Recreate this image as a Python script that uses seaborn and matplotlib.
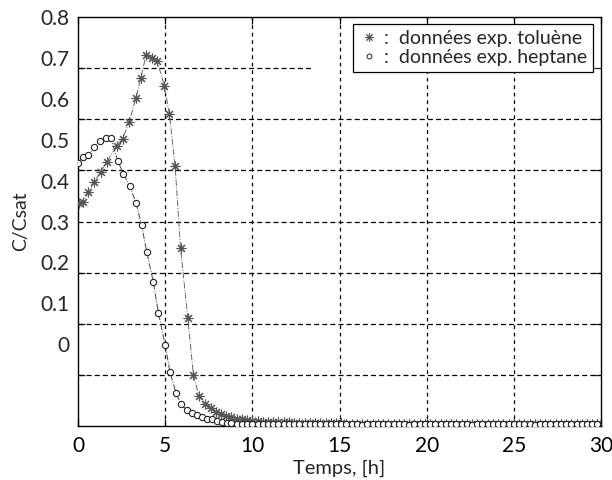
import numpy as np
import pandas as pd
import matplotlib
matplotlib.use("Agg")
import matplotlib.pyplot as plt
import seaborn as sns
from matplotlib.lines import Line2D

# ==========================================
# DATA
# ==========================================

# toluene, start of the run
t_tol = [0.07, 0.30, 0.59, 0.92, 1.30, 1.65, 2.22, 2.56, 2.94, 3.33,
         3.60, 3.90, 4.23, 4.55, 4.95, 5.24, 5.57, 5.88, 6.30, 6.62,
         6.94, 7.30, 7.60, 7.90, 8.20, 8.50]
c_tol = [0.345, 0.348, 0.372, 0.397, 0.421, 0.446, 0.485, 0.503, 0.544, 0.603,
         0.650, 0.707, 0.700, 0.692, 0.631, 0.564, 0.435, 0.235, 0.063, -0.076,
         -0.127, -0.145, -0.157, -0.165, -0.171, -0.176]

# heptane, start of the run
t_hep = [0.00, 0.27, 0.59, 0.92, 1.26, 1.60, 1.87, 2.28, 2.60, 2.98,
         3.33, 3.65, 3.94, 4.32, 4.61, 5.00, 5.28, 5.62, 5.90, 6.24,
         6.52, 6.81, 7.10, 7.38, 7.67, 7.96, 8.24, 8.53]
c_hep = [0.443, 0.458, 0.462, 0.481, 0.496, 0.504, 0.505, 0.448, 0.417, 0.386,
         0.345, 0.291, 0.226, 0.152, 0.077, -0.002, -0.069, -0.119, -0.147, -0.161,
         -0.169, -0.174, -0.178, -0.182, -0.184, -0.1875, -0.190, -0.1915]

# tail of both runs (same sampling times)
t_tail = [8.8, 9.1, 9.4, 9.7, 10.0, 10.3, 10.6, 10.9, 11.2, 11.5,
          11.8, 12.1, 12.4, 12.7, 13.0, 13.3, 13.6, 13.9, 14.2, 14.5,
          14.8, 15.1, 15.4, 15.7, 16.0, 16.3, 16.6, 16.9, 17.2, 17.5,
          17.8, 18.1, 18.4, 18.7, 19.0, 19.3, 19.6, 19.9, 20.2, 20.5,
          20.8, 21.1, 21.4, 21.7, 22.0, 22.3, 22.6, 22.9, 23.2, 23.5,
          23.8, 24.1, 24.4, 24.7, 25.0, 25.3, 25.6, 25.9, 26.2, 26.5,
          26.8, 27.1, 27.4, 27.7, 28.0, 28.3, 28.6, 28.9, 29.2, 29.5,
          29.8]
c_tol_tail = [-0.179, -0.182, -0.184, -0.186, -0.187, -0.188, -0.189, -0.190, -0.190, -0.191,
              -0.191, -0.191, -0.192, -0.192, -0.192, -0.192, -0.193, -0.193, -0.193, -0.193,
              -0.193, -0.193, -0.194, -0.194, -0.194, -0.194, -0.194, -0.194, -0.194, -0.194,
              -0.194, -0.194, -0.194, -0.194, -0.194, -0.194, -0.194, -0.194, -0.194, -0.194,
              -0.194, -0.194, -0.194, -0.194, -0.195, -0.194, -0.195, -0.195, -0.194, -0.195,
              -0.195, -0.195, -0.195, -0.195, -0.195, -0.195, -0.195, -0.195, -0.195, -0.195,
              -0.195, -0.195, -0.195, -0.195, -0.195, -0.195, -0.195, -0.195, -0.195, -0.195,
              -0.195]
c_hep_tail = [-0.193, -0.194, -0.194, -0.195, -0.195, -0.195, -0.195, -0.196, -0.196, -0.196,
              -0.196, -0.196, -0.196, -0.196, -0.196, -0.196, -0.196, -0.196, -0.196, -0.196,
              -0.196, -0.196, -0.196, -0.196, -0.196, -0.197, -0.196, -0.196, -0.196, -0.196,
              -0.196, -0.196, -0.196, -0.196, -0.197, -0.196, -0.196, -0.196, -0.196, -0.196,
              -0.196, -0.196, -0.196, -0.196, -0.196, -0.196, -0.197, -0.196, -0.196, -0.196,
              -0.196, -0.196, -0.196, -0.196, -0.196, -0.196, -0.196, -0.196, -0.197, -0.196,
              -0.196, -0.196, -0.196, -0.196, -0.196, -0.196, -0.196, -0.196, -0.196, -0.196,
              -0.196]

x_ticks = [0, 5, 10, 15, 20, 25, 30]
y_ticks = [0, 0.1, 0.2, 0.3, 0.4, 0.5, 0.6, 0.7, 0.8]
y_tick_labels = ["0", "0.1", "0.2", "0.3", "0.4", "0.5", "0.6", "0.7", "0.8"]
# the dashed grid of the scan does not sit on the labelled values
grid_y = [-0.075, 0.05, 0.175, 0.3, 0.425, 0.55, 0.675]
grid_y_end = [30, 30, 30, 30, 30, 30, 13.4]

tol = pd.DataFrame({"t": t_tol + t_tail, "c": c_tol + c_tol_tail})
hep = pd.DataFrame({"t": t_hep + t_tail, "c": c_hep + c_hep_tail})

# ==========================================
# PLOT
# ==========================================

sns.set_style("white")
plt.rcParams["font.family"] = ["Lato", "DejaVu Sans"]

fig = plt.figure(figsize=(6.12, 4.8), dpi=100)
ax = fig.add_axes([0.1275, 0.1125, 0.8545, 0.852])

grid_ls = (0, (4, 2.5))
for gy, gx in zip(grid_y, grid_y_end):
    ax.hlines(gy, 0, gx, colors="black", linestyles=grid_ls, linewidth=0.9, zorder=1)
for gx in x_ticks[1:-1]:
    ax.axvline(gx, color="black", linestyle=(0, (3, 3)), linewidth=0.9, zorder=1)

asterisk = (8, 2, 0)

sns.lineplot(data=tol, x="t", y="c", sort=False, ax=ax, color="#666666",
             linestyle="-.", linewidth=0.7, marker=asterisk, markersize=7,
             markeredgewidth=0.8, markeredgecolor="#555555", zorder=3)
sns.lineplot(data=hep, x="t", y="c", sort=False, ax=ax, color="#444444",
             linestyle="-.", linewidth=0.7, marker="o", markersize=4.5,
             markerfacecolor="white", markeredgewidth=0.8,
             markeredgecolor="#222222", zorder=4)

ax.set_xlim(0, 30)
ax.set_ylim(-0.2, 0.8)
ax.set_xticks(x_ticks)
ax.set_xticklabels([str(v) for v in x_ticks])
ax.set_yticks(y_ticks)
ax.set_yticklabels(y_tick_labels)
ax.set_yticks(grid_y, minor=True)

ax.tick_params(axis="x", which="major", direction="in", length=5, width=0.9,
               top=True, bottom=True, labelsize=15, pad=7, colors="black")
ax.tick_params(axis="y", which="major", length=0, labelsize=15, pad=6)
ax.tick_params(axis="y", which="minor", direction="in", length=5, width=0.9,
               left=True, right=True)

for s in ax.spines.values():
    s.set_color("black")
    s.set_linewidth(1.0)

ax.set_xlabel("Temps, [h]", fontsize=14.5, labelpad=3)
ax.set_ylabel("C/Csat", fontsize=14, labelpad=8)

handles = [
    Line2D([], [], linestyle="none", marker=asterisk, markersize=6,
           color="#555555", markeredgewidth=0.7),
    Line2D([], [], linestyle="none", marker="o", markersize=3.5,
           markerfacecolor="white", markeredgecolor="#222222", markeredgewidth=0.7),
]
labels = [":  données exp. toluène", ":  données exp. heptane"]
leg = ax.legend(handles, labels, loc="upper right", bbox_to_anchor=(0.985, 0.983),
                fontsize=14, frameon=True, fancybox=False, framealpha=1,
                edgecolor="black", handlelength=1.0, handletextpad=0.3,
                borderpad=0.3, labelspacing=0.1, borderaxespad=0)
leg.get_frame().set_linewidth(0.9)
leg.set_zorder(10)

fig.savefig("out.png", dpi=100)
